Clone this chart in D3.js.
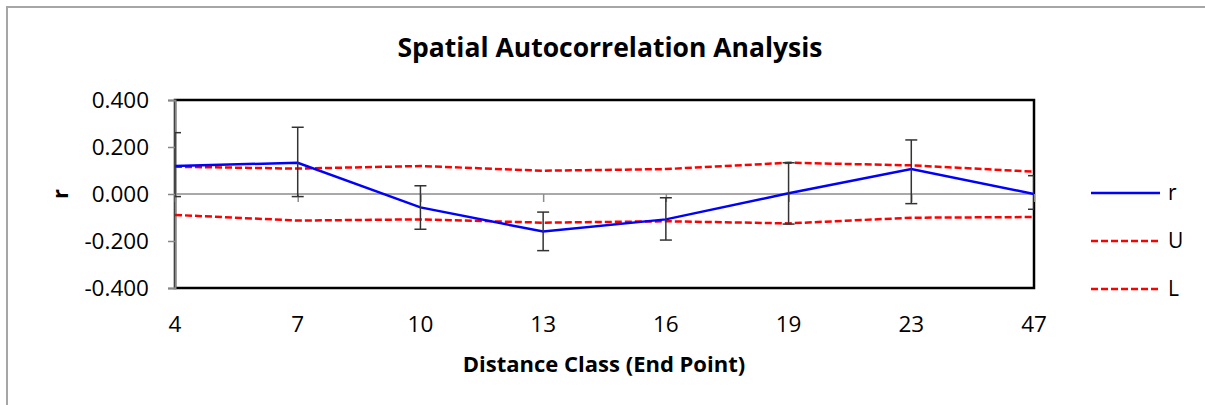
<!DOCTYPE html>
<html>
<head>
<meta charset="utf-8">
<script src="https://cdn.jsdelivr.net/npm/d3@7/dist/d3.min.js"></script>
<style>
  html, body { margin: 0; padding: 0; background: #fff; }
  svg { display: block; font-family: "Open Sans", "Noto Sans", sans-serif; }
</style>
</head>
<body>
<svg id="chart" width="1205" height="405"></svg>
<script>
// Distance classes (end point of each class)
const categories = ["4", "7", "10", "13", "16", "19", "23", "47"];
// Correlogram coefficient r per distance class
const rValues = [0.119, 0.133, -0.057, -0.160, -0.108, 0.003, 0.106, 0.000];
// Upper and lower confidence limits
const uValues = [0.116, 0.108, 0.119, 0.099, 0.106, 0.133, 0.122, 0.095];
const lValues = [-0.089, -0.113, -0.108, -0.122, -0.116, -0.125, -0.101, -0.098];
// Bootstrap error bar ends around r
const errHigh = [0.261, 0.284, 0.035, -0.077, -0.016, 0.133, 0.230, 0.078];
const errLow = [-0.011, -0.011, -0.150, -0.241, -0.196, -0.128, -0.041, -0.065];
// Y axis tick values
const yTicks = [-0.4, -0.2, 0, 0.2, 0.4];

const svg = d3.select("#chart");
const plot = { left: 175, right: 1034, top: 100, bottom: 288 };

const x = d3.scalePoint().domain(categories).range([plot.left, plot.right]);
const y = d3.scaleLinear().domain([-0.4, 0.4]).range([plot.bottom, plot.top]);

// Outer chart frame (only top and left edges fall inside the view)
svg.append("rect")
  .attr("x", 7).attr("y", 7).attr("width", 1220).attr("height", 420)
  .attr("fill", "none").attr("stroke", "#a6a6a6").attr("stroke-width", 2);

// Title
svg.append("text")
  .attr("x", 610).attr("y", 57)
  .attr("text-anchor", "middle")
  .attr("font-size", 26.5).attr("font-weight", "bold")
  .attr("fill", "#000")
  .text("Spatial Autocorrelation Analysis");

// Plot area border
svg.append("rect")
  .attr("x", plot.left).attr("y", plot.top)
  .attr("width", plot.right - plot.left).attr("height", plot.bottom - plot.top)
  .attr("fill", "none").attr("stroke", "#000").attr("stroke-width", 2.5);

// Y axis (hyphen-minus for negative labels)
const fmt = d => d3.format(".3f")(d).replace("\u2212", "-");
const yAxis = d3.axisLeft(y).tickValues(yTicks).tickFormat(fmt).tickSize(7).tickPadding(19);
const yg = svg.append("g").attr("transform", `translate(${plot.left},0)`).call(yAxis);
yg.select(".domain").attr("stroke", "#868686").attr("stroke-width", 2);
yg.selectAll(".tick line").attr("stroke", "#868686").attr("stroke-width", 1.5);
yg.selectAll(".tick text").attr("font-size", 22.5).attr("fill", "#000")
  .attr("font-family", "'Open Sans', sans-serif").attr("dy", "0.35em");

// Category axis along r = 0
const xAxis = d3.axisBottom(x).tickSize(8).tickFormat("");
const xg = svg.append("g").attr("transform", `translate(0,${y(0)})`).call(xAxis);
xg.select(".domain").attr("stroke", "#8c8c8c").attr("stroke-width", 1.5).attr("d", `M${plot.left},0H${plot.right}`);
xg.selectAll(".tick line").attr("stroke", "#8c8c8c").attr("stroke-width", 1.5);

// Category labels below the plot
svg.append("g").selectAll("text").data(categories).join("text")
  .attr("x", d => x(d)).attr("y", 332)
  .attr("text-anchor", "middle")
  .attr("font-size", 22.5).attr("fill", "#000")
  .text(d => d);

// Axis titles
svg.append("text")
  .attr("x", 604).attr("y", 372)
  .attr("text-anchor", "middle")
  .attr("font-size", 22).attr("font-weight", "bold")
  .text("Distance Class (End Point)");
svg.append("text")
  .attr("transform", `translate(68,${y(0)}) rotate(-90)`)
  .attr("text-anchor", "middle")
  .attr("font-size", 22).attr("font-weight", "bold")
  .text("r");

// Clip marks to the plot area
svg.append("defs").append("clipPath").attr("id", "plotClip")
  .append("rect").attr("x", plot.left).attr("y", plot.top - 2)
  .attr("width", plot.right - plot.left).attr("height", plot.bottom - plot.top + 4);

const marks = svg.append("g").attr("clip-path", "url(#plotClip)");
const line = d3.line().x((d, i) => x(categories[i])).y(d => y(d));

// Confidence limits
[uValues, lValues].forEach(vals => {
  marks.append("path").datum(vals)
    .attr("d", line).attr("fill", "none")
    .attr("stroke", "#ff0000").attr("stroke-width", 2.5)
    .attr("stroke-dasharray", "7,3");
});

// r series
marks.append("path").datum(rValues)
  .attr("d", line).attr("fill", "none")
  .attr("stroke", "#0000ff").attr("stroke-width", 2.5);

// Error bars
const eb = marks.append("g").attr("stroke", "#333").attr("stroke-width", 1.5);
categories.forEach((c, i) => {
  const cx = x(c);
  eb.append("line").attr("x1", cx).attr("x2", cx).attr("y1", y(errHigh[i])).attr("y2", y(errLow[i]));
  eb.append("line").attr("x1", cx - 6).attr("x2", cx + 6).attr("y1", y(errHigh[i])).attr("y2", y(errHigh[i]));
  eb.append("line").attr("x1", cx - 6).attr("x2", cx + 6).attr("y1", y(errLow[i])).attr("y2", y(errLow[i]));
});

// Legend
const legendItems = [
  { name: "r", color: "#0000ff", dash: null },
  { name: "U", color: "#ff0000", dash: "7,3" },
  { name: "L", color: "#ff0000", dash: "7,3" }
];
const lg = svg.append("g").selectAll("g").data(legendItems).join("g")
  .attr("transform", (d, i) => `translate(1091,${193 + i * 48})`);
lg.append("line").attr("x1", 0).attr("x2", 69).attr("y1", 0).attr("y2", 0)
  .attr("stroke", d => d.color).attr("stroke-width", 2.5)
  .attr("stroke-dasharray", d => d.dash);
lg.append("text").attr("x", 77).attr("y", 0).attr("dy", "0.35em")
  .attr("font-size", 21).text(d => d.name);
</script>
</body>
</html>
